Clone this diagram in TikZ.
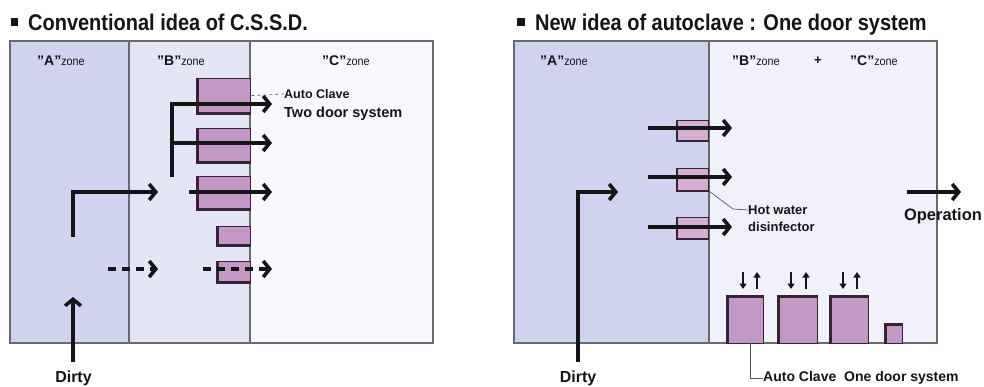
\documentclass[tikz,border=0pt]{standalone}
\usepackage{fontspec}
\setmainfont{Liberation Sans}
\newfontfamily\titlefont[FakeStretch=0.88]{Liberation Sans}
\newfontfamily\condfont[FakeStretch=0.9]{Liberation Sans}
\usetikzlibrary{arrows.meta}
\definecolor{zoneA}{RGB}{207,211,238}
\definecolor{zoneBl}{RGB}{229,230,245}
\definecolor{zoneCl}{RGB}{248,248,253}
\definecolor{zoneBC}{RGB}{241,241,251}
\definecolor{boxfill}{RGB}{196,152,196}
\definecolor{hwfill}{RGB}{212,176,206}
\definecolor{boxedge}{RGB}{55,35,55}
\definecolor{framecol}{RGB}{105,105,115}
\definecolor{ink}{RGB}{20,20,25}
\definecolor{leadcol}{RGB}{90,90,95}
\begin{document}
\begin{tikzpicture}[x=1pt,y=-1pt,
  frame/.style={draw=framecol,line width=1.8pt},
  divider/.style={draw=framecol,line width=1.2pt},
  cab/.style={draw=boxedge,line width=1.3pt,fill=boxfill,inner sep=0pt,anchor=north west},
  hwbox/.style={cab,fill=hwfill},
  flow/.style={draw=ink,line width=3.4pt,-{Straight Barb[length=6.5pt,width=16pt,line width=3.6pt]}},
  dflow/.style={flow,dash pattern=on 8pt off 6pt},
  updn/.style={draw=ink,line width=2pt,-{Triangle[length=5.5pt,width=7pt]}},
  leader/.style={draw=leadcol,line width=0.7pt},
  zlab/.style={anchor=base west,inner sep=0pt,text=ink},
  ttl/.style={anchor=base west,inner sep=0pt,text=ink,font=\titlefont\bfseries\fontsize{22.7}{24}\selectfont},
  bul/.style={fill=ink,minimum size=7.5pt,inner sep=0pt},
  lbl/.style={inner sep=0pt,text=ink}
]
\useasboundingbox (0,0) rectangle (984,387);
\fill[white] (0,0) rectangle (984,387);

% ---------- titles ----------
\node[bul] (bul1) at (14.5,22) {};
\node[ttl] (t1) at (28,31) {Conventional idea of C.S.S.D.};
\node[bul] (bul2) at (521,22) {};
\node[ttl] (t2) at (535,31) {New idea of autoclave : One door system};

% ---------- left panel ----------
\fill[zoneA] (10,41) rectangle (129,343);
\fill[zoneBl] (129,41) rectangle (250,343);
\fill[zoneCl] (250,41) rectangle (433,343);
\draw[divider] (129,41) -- (129,343) (250,41) -- (250,343);
\draw[frame] (10,41) rectangle (433,343);

\node[zlab] (za1) at (37,66) {{\bfseries\fontsize{14}{14}\selectfont "A"}{\condfont\fontsize{12}{12}\selectfont zone}};
\node[zlab] (zb1) at (157,66) {{\bfseries\fontsize{14}{14}\selectfont "B"}{\condfont\fontsize{12}{12}\selectfont zone}};
\node[zlab] (zc1) at (322,66) {{\bfseries\fontsize{14}{14}\selectfont "C"}{\condfont\fontsize{12}{12}\selectfont zone}};

\node[cab,minimum width=53pt,minimum height=34pt] (ac1) at (197,78) {};
\node[cab,minimum width=53pt,minimum height=33pt] (ac2) at (197,128) {};
\node[cab,minimum width=53pt,minimum height=32pt] (ac3) at (197,176) {};
\node[cab,minimum width=33pt,minimum height=18pt] (ac4) at (217,226) {};
\node[cab,minimum width=33pt,minimum height=20pt] (ac5) at (217,261) {};
\foreach \b in {ac1,ac2,ac3,ac4,ac5}{
  \draw[boxedge,line width=3pt] (\b.north west) -- (\b.south west) -- (\b.south east);
}

\coordinate (vtop) at (172,104);
\coordinate (vbot) at (172,177);
\coordinate (e1) at (272,104);
\coordinate (s2) at (172,143);
\coordinate (e2) at (272,143);
\coordinate (s3) at (189,192);
\coordinate (e3) at (272,192);
\coordinate (la) at (73,237);
\coordinate (lb) at (73,192);
\coordinate (lc) at (158,192);
\coordinate (da) at (108,269);
\coordinate (db) at (158,269);
\coordinate (dc) at (203,269);
\coordinate (dd) at (272,269);
\coordinate (dirtyA) at (73,362);
\coordinate (dirtyAend) at (73,297);

\draw[flow] (vbot) -- (vtop) -- (e1);
\draw[flow] (s2) -- (e2);
\draw[flow] (s3) -- (e3);
\draw[flow] (la) -- (lb) -- (lc);
\draw[dflow] (da) -- (db);
\draw[dflow] (dc) -- (dd);
\draw[flow] (dirtyA) -- (dirtyAend);

\node[lbl,anchor=west,font=\bfseries\fontsize{12.5}{13}\selectfont] (lac) at (284,94) {Auto Clave};
\node[lbl,anchor=west,font=\bfseries\fontsize{14.5}{16}\selectfont] (ltd) at (284,114) {Two door system};
\draw[leader,dashed] (ac1.east) -- (lac.west);

\node[lbl,font=\bfseries\fontsize{16}{17}\selectfont] (dirty1) at (73.5,378) {Dirty};

% ---------- right panel ----------
\fill[zoneA] (514,41) rectangle (709,343);
\fill[zoneBC] (709,41) rectangle (937,343);
\draw[divider] (709,41) -- (709,343);
\draw[frame] (514,41) rectangle (937,343);

\node[zlab] (za2) at (540,66) {{\bfseries\fontsize{14}{14}\selectfont "A"}{\condfont\fontsize{12}{12}\selectfont zone}};
\node[zlab] (zb2) at (732,66) {{\bfseries\fontsize{14}{14}\selectfont "B"}{\condfont\fontsize{12}{12}\selectfont zone}};
\node[lbl,font=\bfseries\fontsize{13}{13}\selectfont] (plus) at (818,61) {+};
\node[zlab] (zc2) at (850,66) {{\bfseries\fontsize{14}{14}\selectfont "C"}{\condfont\fontsize{12}{12}\selectfont zone}};

\node[hwbox,minimum width=31pt,minimum height=20pt] (hw1) at (677,120) {};
\node[hwbox,minimum width=31pt,minimum height=22pt] (hw2) at (677,168) {};
\node[hwbox,minimum width=31pt,minimum height=21pt] (hw3) at (677,217) {};
\foreach \b in {hw1,hw2,hw3}{
  \draw[boxedge,line width=2.4pt] (\b.north west) -- (\b.south west) -- (\b.south east);
}

\coordinate (h1s) at (648,128);
\coordinate (h1e) at (732,128);
\coordinate (h2s) at (648,177);
\coordinate (h2e) at (732,177);
\coordinate (h3s) at (648,227);
\coordinate (h3e) at (732,227);
\draw[flow] (h1s) -- (h1e);
\draw[flow] (h2s) -- (h2e);
\draw[flow] (h3s) -- (h3e);

\node[lbl,anchor=west,font=\bfseries\fontsize{13}{14}\selectfont] (hwa) at (748,210) {Hot water};
\node[lbl,anchor=west,font=\bfseries\fontsize{13}{14}\selectfont] (hwb) at (748,227) {disinfector};
\coordinate (hk) at (733,209);
\draw[leader] (hw2.south east) -- (hk) -- (hwa.west);

\coordinate (ra) at (578,362);
\coordinate (rb) at (578,192);
\coordinate (rc) at (618,192);
\draw[flow] (ra) -- (rb) -- (rc);
\node[lbl,font=\bfseries\fontsize{16}{17}\selectfont] (dirty2) at (578,378) {Dirty};

\coordinate (ops) at (907,192);
\coordinate (ope) at (961,192);
\draw[flow] (ops) -- (ope);
\node[lbl,font=\bfseries\fontsize{16.5}{17}\selectfont] (op) at (943,216) {Operation};

\node[cab,minimum width=36pt,minimum height=47pt] (oc1) at (727,296) {};
\node[cab,minimum width=39pt,minimum height=47pt] (oc2) at (778,296) {};
\node[cab,minimum width=38pt,minimum height=47pt] (oc3) at (830,296) {};
\node[cab,minimum width=17pt,minimum height=19pt] (oc4) at (885,324) {};
\foreach \b in {oc1,oc2,oc3,oc4}{
  \draw[boxedge,line width=3pt] (\b.south west) -- (\b.north west) -- (\b.north east);
}

\foreach \dx/\ux [count=\i] in {743/757,791/806,843/857}{
  \coordinate (dn\i a) at (\dx,272);
  \coordinate (dn\i b) at (\dx,289);
  \coordinate (up\i a) at (\ux,289);
  \coordinate (up\i b) at (\ux,272);
  \draw[updn] (dn\i a) -- (dn\i b);
  \draw[updn] (up\i a) -- (up\i b);
}

\node[lbl,anchor=west,font=\bfseries\fontsize{14}{15}\selectfont] (aco) at (763,378) {Auto Clave\hspace{4pt} One door system};
\coordinate (bk) at (750,378);
\coordinate (ocl) at (750,343);
\draw[leader] (ocl) -- (bk) -- (aco.west);
\end{tikzpicture}
\end{document}
